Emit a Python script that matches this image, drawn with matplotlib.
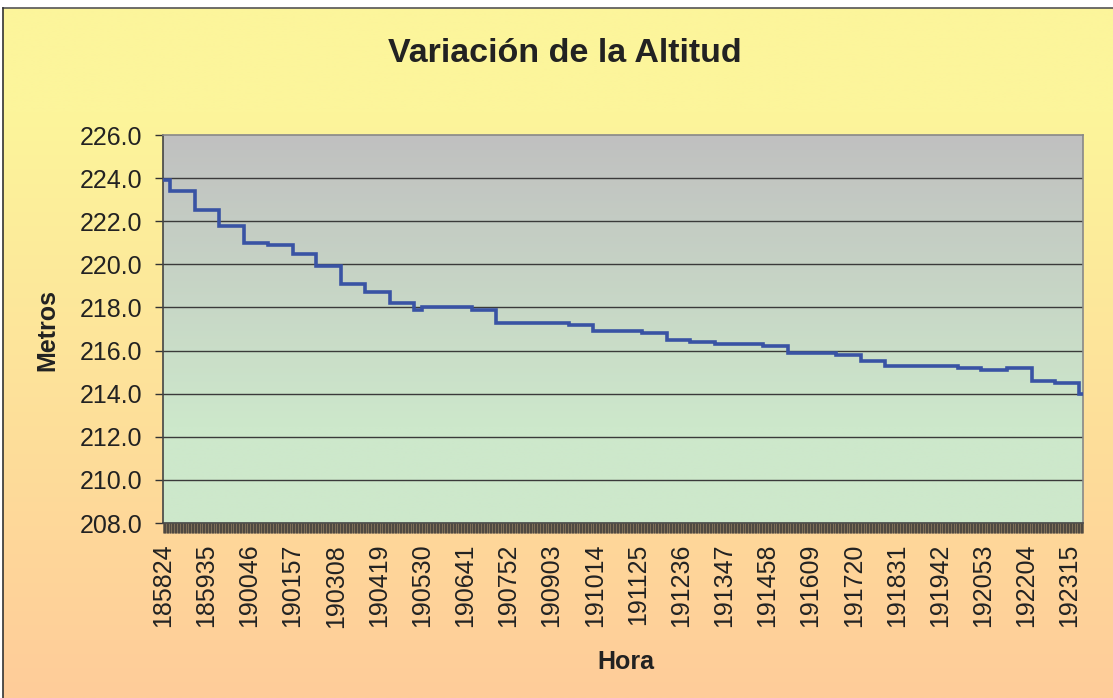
import numpy as np
import matplotlib
matplotlib.use("Agg")
import matplotlib.pyplot as plt

plt.rcParams['font.family'] = ['Liberation Sans', 'DejaVu Sans']

# ---- data (seconds since 18:58:24, altitude in metres) ----
step_start = [0, 12, 53, 92, 133, 173, 214, 252, 293, 332, 373, 413, 426, 508,
              548, 668, 707, 788, 829, 867, 908, 987, 1028, 1107, 1148, 1187,
              1308, 1345, 1388, 1429, 1467, 1507]
altitude = [223.9, 223.4, 222.5, 221.8, 221.0, 220.9, 220.5, 219.9, 219.1, 218.7,
            218.2, 217.9, 218.0, 217.9, 217.3, 217.2, 216.9, 216.8, 216.5, 216.4,
            216.3, 216.2, 215.9, 215.8, 215.5, 215.3, 215.2, 215.1, 215.2, 214.6,
            214.5, 214.0]
last_index = 1513
tick_labels = ['185824', '185935', '190046', '190157', '190308', '190419',
               '190530', '190641', '190752', '190903', '191014', '191125',
               '191236', '191347', '191458', '191609', '191720', '191831',
               '191942', '192053', '192204', '192315']
label_every = 71
y_ticks = [208, 210, 212, 214, 216, 218, 220, 222, 224, 226]

W, H = 1113, 698
fig = plt.figure(figsize=(W / 100, H / 100), dpi=100)
fig.patch.set_facecolor('white')

# figure background gradient (chart area)
bg = fig.add_axes([0, 0, 1, 1], zorder=-10)
bg.set_xlim(0, W)
bg.set_ylim(H, 0)
bg.axis('off')
top_c = np.array([252, 245, 155]) / 255
bot_c = np.array([255, 204, 153]) / 255
t = np.linspace(0, 1, 256)[:, None]
t2 = np.clip((t - 0.15) / 0.85, 0, 1)
grad = top_c[None, :] * (1 - t2) + bot_c[None, :] * t2
bg.imshow(grad[:, None, :].repeat(2, axis=1), extent=[3, W, H, 8], aspect='auto',
          interpolation='bilinear', zorder=0)
bg.plot([3, W], [8, 8], color='#555555', lw=1.2, zorder=2)
bg.plot([3, 3], [8, H], color='#333333', lw=1.2, zorder=2)

# plot axes
x0, x1, y0, y1 = 163, 1083, 135, 523
ax = fig.add_axes([x0 / W, 1 - y1 / H, (x1 - x0) / W, (y1 - y0) / H])
ax.set_facecolor('none')
ax.set_xlim(0, last_index)
ax.set_ylim(208, 226)

pg_top = np.array([192, 192, 192]) / 255
pg_bot = np.array([205, 232, 203]) / 255
tt = np.clip(np.linspace(0, 1, 256)[:, None] / 0.75, 0, 1)
pgrad = pg_top[None, :] * (1 - tt) + pg_bot[None, :] * tt
ax.imshow(pgrad[:, None, :].repeat(2, axis=1), extent=[0, last_index, 208, 226],
          aspect='auto', interpolation='bilinear', zorder=0)

for yv in y_ticks[1:-1]:
    ax.axhline(yv, color='#3a3a3a', lw=1.0, zorder=1)

xs = step_start + [last_index]
ys = altitude + [altitude[-1]]
ax.step(xs, ys, where='post', color='#3953A4', lw=2.6, zorder=3,
        solid_joinstyle='miter')

ax.set_yticks(y_ticks)
ax.set_yticklabels([f'{v:.1f}' for v in y_ticks], fontsize=18, color='#222222')
ax.set_xticks([i * label_every for i in range(len(tick_labels))])
ax.set_xticklabels(tick_labels, rotation=90, fontsize=18, color='#222222')
ax.set_xticks(np.arange(0, last_index + 1), minor=True)
ax.tick_params(axis='x', which='both', direction='out', length=7, width=0.45,
               color='#333333', pad=8)
ax.tick_params(axis='y', direction='out', length=6, width=1, color='#333333', pad=9)

for s in ['left', 'bottom']:
    ax.spines[s].set_color('#444444')
    ax.spines[s].set_linewidth(1.2)
for s in ['top', 'right']:
    ax.spines[s].set_color('#888888')
    ax.spines[s].set_linewidth(1.2)

fig.text(565 / W, 1 - 53 / H, 'Variación de la Altitud', fontsize=24.5,
         fontweight='bold', ha='center', va='center', color='#222222')
fig.text(626 / W, 1 - 662 / H, 'Hora', fontsize=18, fontweight='bold',
         ha='center', va='center', color='#222222')
fig.text(47 / W, 1 - 330 / H, 'Metros', fontsize=18, fontweight='bold',
         ha='center', va='center', rotation=90, color='#222222')

fig.savefig('out.png', dpi=100)
